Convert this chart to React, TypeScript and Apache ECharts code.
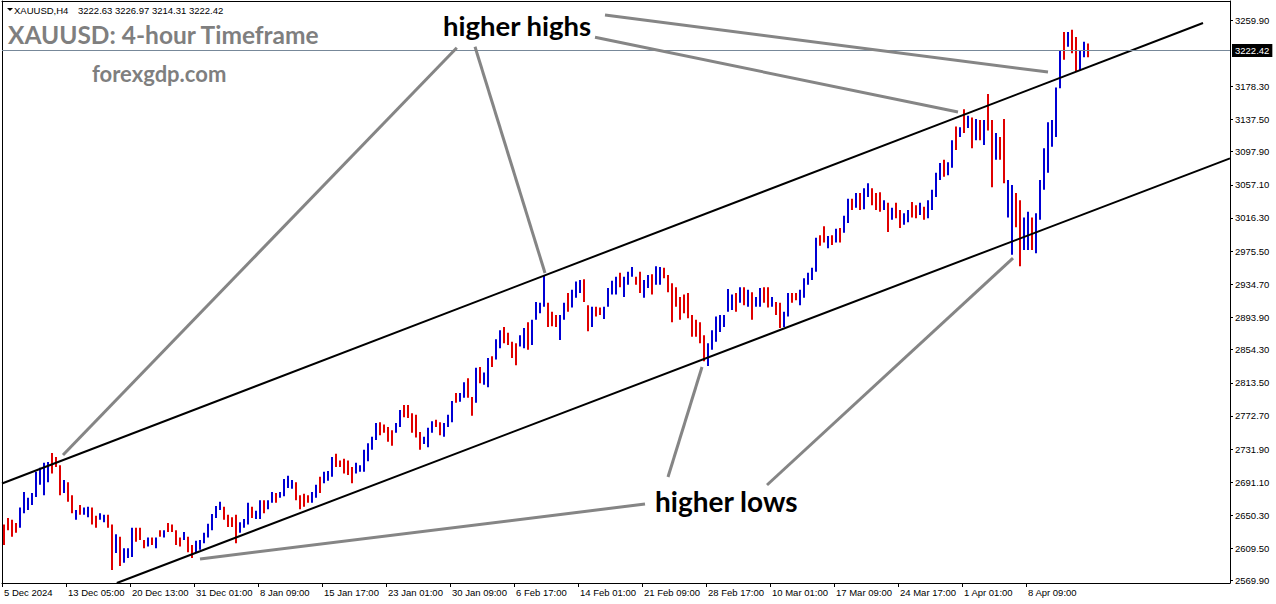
import React, { useEffect, useRef } from "react";
import * as echarts from "echarts";

// H8-aggregated price bars (slot index = position on the time axis)
const highs = [
  2639, 2647, 2645, 2641, 2660, 2679, 2672, 2678, 2704, 2709,
  2715, 2716, 2727, 2722, 2712, 2694, 2691, 2675, 2657, 2663,
  2660, 2661, 2660, 2650, 2653, 2651, 2651, 2639, 2627, 2624,
  2610, 2610, 2635, 2635, 2635, 2620, 2623, 2623, 2623, 2632,
  2632, 2641, 2639, 2632, 2623, 2630, 2624, 2614, 2619, 2620,
  2629, 2640, 2652, 2662, 2667, 2661, 2651, 2648, 2651, 2642,
  2646, 2666, 2661, 2656, 2669, 2669, 2669, 2679, 2678, 2679,
  2695, 2699, 2694, 2691, 2675, 2677, 2675, 2679, 2688, 2698,
  2704, 2705, 2722, 2726, 2718, 2720, 2718, 2710, 2715, 2712,
  2731, 2739, 2747, 2764, 2765, 2762, 2759, 2755, 2764, 2780,
  2786, 2786, 2776, 2774, 2753, 2747, 2758, 2766, 2768, 2765,
  2764, 2774, 2791, 2801, 2801, 2814, 2819, 2796, 2832, 2833,
  2826, 2844, 2846, 2867, 2878, 2882, 2875, 2864, 2862, 2872,
  2881, 2888, 2891, 2913, 2912, 2946, 2912, 2901, 2897, 2897,
  2912, 2924, 2928, 2938, 2940, 2941, 2909, 2907, 2907, 2906,
  2907, 2930, 2939, 2944, 2949, 2944, 2950, 2956, 2944, 2950,
  2940, 2946, 2947, 2957, 2956, 2955, 2946, 2936, 2931, 2919,
  2922, 2924, 2897, 2891, 2888, 2872, 2862, 2878, 2895, 2897,
  2897, 2929, 2922, 2924, 2931, 2931, 2928, 2925, 2919, 2930,
  2931, 2931, 2919, 2913, 2912, 2901, 2924, 2924, 2924, 2928,
  2942, 2949, 2955, 2992, 2995, 3006, 2994, 2995, 3003, 3004,
  3019, 3040, 3040, 3047, 3047, 3053, 3059, 3053, 3047, 3048,
  3038, 3035, 3029, 3035, 3026, 3022, 3026, 3036, 3032, 3035,
  3030, 3038, 3051, 3072, 3084, 3088, 3085, 3112, 3129, 3128,
  3150, 3142, 3140, 3138, 3137, 3137, 3169, 3137, 3121, 3116,
  3138, 3063, 3057, 3047, 3038, 3017, 3024, 3017, 3022, 3063,
  3102, 3134, 3137, 3177, 3223, 3245, 3245, 3248, 3239, 3223,
  3233, 3231,
];

const lows = [
  2614, 2632, 2624, 2629, 2635, 2653, 2657, 2663, 2673, 2688,
  2675, 2691, 2702, 2710, 2675, 2678, 2667, 2653, 2645, 2651,
  2651, 2648, 2639, 2635, 2645, 2642, 2635, 2583, 2604, 2588,
  2592, 2598, 2599, 2618, 2620, 2610, 2612, 2614, 2610, 2624,
  2623, 2630, 2630, 2614, 2612, 2620, 2605, 2598, 2605, 2608,
  2616, 2623, 2632, 2647, 2657, 2645, 2636, 2636, 2616, 2629,
  2635, 2639, 2647, 2646, 2646, 2653, 2658, 2666, 2666, 2672,
  2674, 2684, 2683, 2669, 2658, 2661, 2666, 2666, 2672, 2678,
  2690, 2693, 2698, 2710, 2710, 2702, 2700, 2690, 2702, 2704,
  2704, 2717, 2731, 2743, 2749, 2752, 2741, 2736, 2752, 2759,
  2771, 2770, 2752, 2746, 2731, 2738, 2734, 2752, 2759, 2749,
  2747, 2759, 2765, 2789, 2790, 2795, 2795, 2773, 2789, 2813,
  2811, 2808, 2833, 2842, 2856, 2862, 2860, 2844, 2835, 2858,
  2856, 2854, 2860, 2891, 2899, 2907, 2882, 2883, 2882, 2866,
  2891, 2901, 2906, 2918, 2924, 2913, 2877, 2882, 2895, 2897,
  2892, 2907, 2922, 2922, 2931, 2919, 2934, 2944, 2934, 2924,
  2918, 2930, 2922, 2934, 2934, 2942, 2925, 2888, 2907, 2891,
  2899, 2893, 2870, 2870, 2862, 2840, 2834, 2854, 2864, 2876,
  2882, 2901, 2903, 2901, 2912, 2909, 2907, 2891, 2907, 2907,
  2912, 2906, 2907, 2897, 2881, 2882, 2895, 2912, 2915, 2909,
  2918, 2934, 2940, 2950, 2982, 2986, 2979, 2983, 2986, 2986,
  2998, 3010, 3026, 3029, 3026, 3027, 3042, 3032, 3026, 3024,
  3026, 2999, 3014, 3016, 3004, 3008, 3011, 3017, 3016, 3020,
  3014, 3016, 3026, 3042, 3063, 3067, 3069, 3078, 3100, 3116,
  3121, 3127, 3102, 3112, 3112, 3106, 3124, 3054, 3088, 3088,
  3059, 3017, 2971, 3005, 2957, 2977, 2977, 2977, 2973, 3014,
  3051, 3072, 3104, 3116, 3176, 3211, 3227, 3219, 3196, 3198,
  3214, 3214,
];

// 1 = bullish (blue) bar, 0 = bearish (red) bar
const ups = [
  0, 0, 0, 0, 1, 1, 1, 1, 1, 1,
  1, 1, 0, 0, 0, 1, 0, 0, 1, 0,
  1, 1, 0, 0, 1, 1, 0, 0, 1, 0,
  1, 1, 1, 0, 0, 0, 1, 0, 1, 0,
  1, 0, 0, 0, 0, 1, 0, 0, 1, 1,
  1, 1, 1, 1, 1, 0, 0, 0, 0, 1,
  1, 1, 0, 1, 1, 0, 1, 1, 0, 1,
  1, 1, 1, 0, 0, 0, 0, 1, 1, 0,
  1, 1, 1, 0, 0, 0, 0, 0, 1, 1,
  1, 1, 1, 1, 0, 0, 0, 0, 1, 1,
  0, 0, 0, 0, 0, 1, 1, 1, 0, 0,
  1, 1, 1, 0, 1, 1, 0, 0, 1, 0,
  1, 1, 0, 1, 1, 0, 0, 0, 0, 1,
  1, 0, 1, 1, 1, 1, 0, 0, 0, 1,
  1, 0, 1, 1, 1, 0, 0, 1, 0, 0,
  1, 1, 1, 1, 0, 1, 1, 1, 0, 0,
  1, 1, 0, 1, 1, 0, 0, 0, 0, 0,
  0, 0, 0, 0, 0, 0, 1, 1, 1, 1,
  1, 1, 1, 0, 1, 0, 1, 0, 1, 1,
  0, 0, 1, 0, 0, 1, 1, 0, 0, 1,
  1, 1, 1, 1, 0, 0, 1, 0, 1, 0,
  1, 1, 0, 1, 0, 1, 1, 0, 0, 0,
  1, 0, 1, 0, 0, 1, 1, 0, 0, 1,
  0, 1, 1, 1, 1, 0, 1, 1, 0, 1,
  0, 1, 0, 1, 0, 1, 0, 0, 1, 0,
  0, 1, 1, 0, 0, 1, 1, 0, 1, 1,
  1, 1, 1, 1, 1, 0, 1, 0, 0, 1,
  1, 0,
];

const xTickLabels = [
  "5 Dec 2024", "13 Dec 05:00", "20 Dec 13:00", "31 Dec 01:00", "8 Jan 09:00",
  "15 Jan 17:00", "23 Jan 01:00", "30 Jan 09:00", "6 Feb 17:00", "14 Feb 01:00",
  "21 Feb 09:00", "28 Feb 17:00", "10 Mar 01:00", "17 Mar 09:00", "24 Mar 17:00",
  "1 Apr 01:00", "8 Apr 09:00",
];
const SLOTS_PER_LABEL = 16;

const yTickLabels = [
  3259.9, 3178.3, 3137.5, 3097.9, 3057.1, 3016.3, 2975.5, 2934.7, 2893.9,
  2854.3, 2813.5, 2772.7, 2731.9, 2691.1, 2650.3, 2609.5, 2569.9,
];

const bidPrice = 3222.42;
const headerSymbol = "XAUUSD,H4";
const headerOHLC = "3222.63 3226.97 3214.31 3222.42";

// Trend channel (slot, price)
const upperChannel = [[-0.5, 2689.6], [299.75, 3256.2]];
const lowerChannel = [[28.2, 2567.1], [306.5, 3089.7]];

// Annotation pointer lines (slot, price)
const highsPointers = [
  [[113.2, 3225.8], [14.75, 2724.6]],
  [[117.75, 3227.0], [135.25, 2948.6]],
  [[147.75, 3238.6], [238.5, 3146.7]],
  [[150.25, 3266.0], [261.0, 3195.9]],
];
const lowsPointers = [
  [[160.25, 2664.3], [49.0, 2596.6]],
  [[166.0, 2697.5], [174.5, 2832.9]],
  [[190.75, 2687.7], [252.25, 2967.0]],
];

const X_MIN = -0.5;
const X_MAX = 306.5;
const Y_MIN = 2567.1;
const Y_MAX = 3283.3;

const AXIS_FONT = "'Liberation Sans', Arial, sans-serif";
const NOTE_FONT = "Lato, 'Open Sans', sans-serif";
const BLUE = "#0000d4";
const RED = "#e00000";

export default function App() {
  const ref = useRef<HTMLDivElement>(null);

  useEffect(() => {
    document.body.style.margin = "0";
    if (!ref.current) return;
    const chart = echarts.init(ref.current, undefined, { renderer: "svg" });

    const bars = highs.map((h, i) => [i, h, lows[i], ups[i]]);
    const labelPositions = xTickLabels.map((_, i) => i * SLOTS_PER_LABEL);
    const tickPositions = xTickLabels.map((_, i) => i * SLOTS_PER_LABEL - 0.5);

    const pointerSeries = [...highsPointers, ...lowsPointers].map((seg) => ({
      type: "line",
      data: seg,
      symbol: "none",
      silent: true,
      lineStyle: { color: "#858585", width: 3 },
      z: 5,
    }));

    const option: any = {
      animation: false,
      backgroundColor: "#ffffff",
      grid: { left: 2, right: 46, top: 1, bottom: 21, containLabel: false },
      xAxis: [
        {
          type: "value",
          min: X_MIN,
          max: X_MAX,
          position: "bottom",
          axisLine: { show: true, onZero: false, lineStyle: { color: "#000", width: 1 } },
          axisTick: {
            show: true,
            customValues: tickPositions,
            length: 4,
            lineStyle: { color: "#000" },
          },
          axisLabel: {
            show: true,
            customValues: labelPositions,
            formatter: (v: number) => xTickLabels[Math.round(v / SLOTS_PER_LABEL)] ?? "",
            align: "left",
            margin: 4,
            color: "#000",
            fontFamily: AXIS_FONT,
            fontSize: 9.5,
          },
          splitLine: { show: false },
        },
        {
          type: "value",
          min: X_MIN,
          max: X_MAX,
          position: "top",
          axisLine: { show: true, onZero: false, lineStyle: { color: "#000", width: 1 } },
          axisTick: { show: false },
          axisLabel: { show: false },
          splitLine: { show: false },
        },
      ],
      yAxis: [
        {
          type: "value",
          min: Y_MIN,
          max: Y_MAX,
          position: "right",
          axisLine: { show: true, onZero: false, lineStyle: { color: "#000", width: 1 } },
          axisTick: {
            show: true,
            customValues: yTickLabels,
            length: 3,
            lineStyle: { color: "#000" },
          },
          axisLabel: {
            show: true,
            customValues: yTickLabels,
            formatter: (v: number) => v.toFixed(2),
            margin: 5,
            color: "#000",
            fontFamily: AXIS_FONT,
            fontSize: 9.5,
          },
          splitLine: { show: false },
        },
        {
          type: "value",
          min: Y_MIN,
          max: Y_MAX,
          position: "left",
          axisLine: { show: true, onZero: false, lineStyle: { color: "#000", width: 1 } },
          axisTick: { show: false },
          axisLabel: { show: false },
          splitLine: { show: false },
        },
      ],
      series: [
        {
          type: "custom",
          xAxisIndex: 0,
          yAxisIndex: 0,
          data: bars,
          encode: { x: 0, y: [1, 2] },
          silent: true,
          renderItem: (_params: any, api: any) => {
            const x = api.value(0);
            const top = api.coord([x, api.value(1)]);
            const bot = api.coord([x, api.value(2)]);
            const up = api.value(3) === 1;
            return {
              type: "rect",
              shape: {
                x: Math.round(top[0]) - 1,
                y: top[1],
                width: 2,
                height: Math.max(1, bot[1] - top[1]),
              },
              style: { fill: up ? BLUE : RED },
            };
          },
          z: 3,
        },
        {
          type: "line",
          data: upperChannel,
          symbol: "none",
          silent: true,
          lineStyle: { color: "#000", width: 2 },
          z: 4,
          markLine: {
            silent: true,
            symbol: ["none", "none"],
            animation: false,
            lineStyle: { color: "#778899", width: 1, type: "solid" },
            label: {
              show: true,
              position: "end",
              formatter: () => bidPrice.toFixed(2),
              backgroundColor: "#000",
              color: "#fff",
              padding: [2, 3, 1, 3],
              distance: 2,
              fontFamily: AXIS_FONT,
              fontSize: 9.5,
            },
            data: [{ yAxis: bidPrice }],
          },
        },
        {
          type: "line",
          data: lowerChannel,
          symbol: "none",
          silent: true,
          lineStyle: { color: "#000", width: 2 },
          z: 4,
        },
        ...pointerSeries,
      ],
      graphic: [
        {
          type: "polygon",
          shape: { points: [[7, 8], [13, 8], [10, 11]] },
          style: { fill: "#000" },
          silent: true,
        },
        {
          type: "text",
          x: 14,
          y: 10,
          silent: true,
          style: {
            text: headerSymbol,
            fill: "#000",
            fontFamily: AXIS_FONT,
            fontSize: 9.5,
            verticalAlign: "middle",
          },
        },
        {
          type: "text",
          x: 78,
          y: 10,
          silent: true,
          style: {
            text: headerOHLC,
            fill: "#000",
            fontFamily: AXIS_FONT,
            fontSize: 9.5,
            verticalAlign: "middle",
          },
        },
        {
          type: "text",
          x: 8,
          y: 34,
          silent: true,
          style: {
            text: "XAUUSD: 4-hour Timeframe",
            fill: "#7f7f7f",
            fontFamily: NOTE_FONT,
            fontWeight: "bold",
            fontSize: 24.5,
            verticalAlign: "middle",
          },
        },
        {
          type: "text",
          x: 92,
          y: 73,
          silent: true,
          style: {
            text: "forexgdp.com",
            fill: "#7f7f7f",
            fontFamily: NOTE_FONT,
            fontWeight: "bold",
            fontSize: 22,
            verticalAlign: "middle",
          },
        },
        {
          type: "text",
          x: 443,
          y: 25,
          silent: true,
          style: {
            text: "higher highs",
            fill: "#000",
            fontFamily: NOTE_FONT,
            fontWeight: "bold",
            fontSize: 27.5,
            verticalAlign: "middle",
          },
        },
        {
          type: "text",
          x: 655,
          y: 501,
          silent: true,
          style: {
            text: "higher lows",
            fill: "#000",
            fontFamily: NOTE_FONT,
            fontWeight: "bold",
            fontSize: 28,
            verticalAlign: "middle",
          },
        },
      ],
    };

    chart.setOption(option);
    return () => chart.dispose();
  }, []);

  return <div ref={ref} style={{ width: 1276, height: 604 }} />;
}
